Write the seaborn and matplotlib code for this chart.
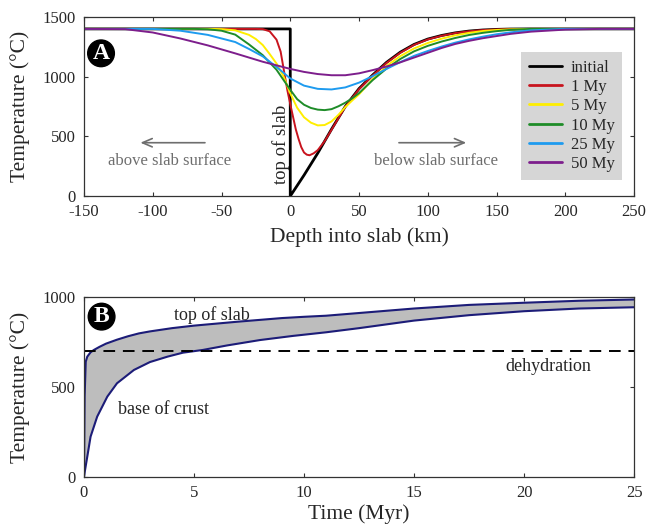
import matplotlib
matplotlib.use('Agg')
import matplotlib.pyplot as plt
import pandas as pd
import seaborn as sns

# ---------------------------
# Panel A data: temperature profiles vs depth into slab
# ---------------------------
initial_x = [-150, 0, 0, 10, 20, 30, 40, 50, 60, 70, 80, 90, 100, 110, 120, 130, 140, 150, 160, 175, 200, 250]
initial_T = [1400, 1400, 0, 175, 360, 560, 750, 900, 1015, 1120, 1205, 1270, 1315, 1345, 1367, 1382, 1391, 1396, 1399, 1400, 1400, 1400]

my1_x = [-150, -25, -20, -15, -10, -7, -4, -2, 0, 2, 4, 6, 8, 10, 12, 14, 17, 20, 25, 30, 40, 50, 60, 70, 80, 90, 100, 110, 120, 130, 140, 150, 160, 175, 200, 250]
my1_T = [1400, 1400, 1398, 1380, 1310, 1210, 1010, 880, 770, 665, 560, 480, 410, 365, 347, 342, 358, 385, 460, 555, 748, 895, 1010, 1115, 1200, 1266, 1312, 1342, 1365, 1380, 1390, 1395, 1398, 1400, 1400, 1400]

my5_x = [-150, -60, -50, -40, -30, -25, -20, -15, -10, -5, 0, 5, 10, 15, 20, 25, 30, 35, 40, 45, 50, 60, 70, 80, 90, 100, 110, 120, 130, 140, 150, 160, 175, 200, 250]
my5_T = [1400, 1400, 1398, 1388, 1350, 1315, 1265, 1190, 1110, 1005, 860, 740, 660, 615, 592, 595, 625, 680, 745, 800, 852, 980, 1090, 1172, 1236, 1282, 1318, 1346, 1367, 1382, 1391, 1396, 1400, 1400, 1400]

my10_x = [-150, -70, -60, -50, -40, -30, -20, -10, 0, 5, 10, 15, 20, 25, 30, 35, 40, 45, 50, 60, 70, 80, 90, 100, 110, 120, 130, 140, 150, 160, 175, 250]
my10_T = [1400, 1400, 1397, 1385, 1352, 1270, 1180, 1058, 890, 812, 765, 738, 724, 720, 728, 752, 782, 818, 862, 972, 1068, 1148, 1212, 1258, 1294, 1324, 1349, 1367, 1381, 1392, 1400, 1400]

my25_x = [-150, -100, -80, -60, -40, -30, -20, -10, 0, 10, 20, 30, 40, 50, 60, 70, 80, 90, 100, 110, 120, 130, 140, 150, 160, 175, 200, 250]
my25_T = [1400, 1400, 1385, 1350, 1290, 1232, 1170, 1082, 985, 925, 898, 893, 910, 950, 1005, 1065, 1122, 1174, 1215, 1252, 1285, 1312, 1335, 1355, 1371, 1388, 1400, 1400]

my50_x = [-150, -120, -100, -80, -60, -40, -20, -10, 0, 10, 20, 30, 40, 50, 60, 70, 80, 90, 100, 110, 120, 130, 140, 150, 160, 175, 200, 225, 250]
my50_T = [1400, 1398, 1370, 1320, 1262, 1195, 1125, 1095, 1065, 1040, 1022, 1012, 1012, 1028, 1055, 1085, 1120, 1160, 1200, 1240, 1274, 1300, 1322, 1340, 1358, 1377, 1394, 1400, 1400]

labels_A = ["initial", "1 My", "5 My", "10 My", "25 My", "50 My"]
colors_A = ["#000000", "#c8141e", "#ffee00", "#1e8c28", "#1e9bef", "#7d1e8c"]

# ---------------------------
# Panel B data: temperature vs time
# ---------------------------
top_t = [0, 0.03, 0.08, 0.15, 0.3, 0.45, 0.7, 1.0, 1.5, 2.0, 2.5, 3.0, 4.0, 5.0, 6.0, 7.0, 8.0, 9.0, 10.0, 11.0, 12.5, 15.0, 17.5, 20.0, 22.5, 25.0]
top_T = [0, 450, 640, 668, 692, 705, 722, 740, 762, 781, 797, 808, 826, 840, 851, 862, 872, 882, 889, 895, 910, 935, 955, 967, 978, 985]

base_t = [0, 0.05, 0.15, 0.3, 0.6, 1.06, 1.5, 2.27, 3.0, 3.8, 4.5, 5.4, 6.5, 8.0, 9.5, 11.0, 12.5, 15.0, 17.5, 20.0, 22.5, 25.0]
base_T = [0, 40, 113, 224, 335, 446, 520, 594, 638, 668, 690, 705, 730, 760, 783, 803, 826, 868, 898, 920, 935, 942]

dehydration_T = 700

# ---------------------------
# Dataframes
# ---------------------------
xs_A = [initial_x, my1_x, my5_x, my10_x, my25_x, my50_x]
Ts_A = [initial_T, my1_T, my5_T, my10_T, my25_T, my50_T]
rows = []
for lab, xs, Ts in zip(labels_A, xs_A, Ts_A):
    for x, T in zip(xs, Ts):
        rows.append({"Depth": x, "Temperature": T, "Time": lab})
df_A = pd.DataFrame(rows)

df_top = pd.DataFrame({"Time": top_t, "Temperature": top_T})
df_base = pd.DataFrame({"Time": base_t, "Temperature": base_T})

# ---------------------------
# Plot
# ---------------------------
sns.set_style("ticks")
plt.rcParams['font.family'] = ['Liberation Serif', 'DejaVu Serif']
plt.rcParams['axes.unicode_minus'] = False
plt.rcParams['xtick.direction'] = 'in'
plt.rcParams['ytick.direction'] = 'in'
plt.rcParams['axes.edgecolor'] = '#333333'
plt.rcParams['axes.linewidth'] = 0.9

fig = plt.figure(figsize=(6.51, 5.30), dpi=100)
axA = fig.add_axes([0.129, 0.630, 0.845, 0.338])
axB = fig.add_axes([0.129, 0.100, 0.845, 0.340])

sns.lineplot(data=df_A, x="Depth", y="Temperature", hue="Time",
             palette=dict(zip(labels_A, colors_A)), hue_order=labels_A,
             estimator=None, sort=False, linewidth=1.4, ax=axA)
axA.lines[0].set_linewidth(2.0)
axA.lines[0].set_zorder(1)

axA.set_xlim(-150, 250)
axA.set_ylim(0, 1500)
axA.set_xticks(range(-150, 251, 50))
axA.set_yticks([0, 500, 1000, 1500])
axA.set_xlabel("Depth into slab (km)", fontsize=15.5, labelpad=5)
axA.set_ylabel("Temperature (°C)", fontsize=15.5, labelpad=9)
axA.tick_params(labelsize=12, top=True, right=True, length=3, color='#333333')
axA.tick_params(axis='x', pad=6)
axA.tick_params(axis='y', pad=6)

handles, _ = axA.get_legend_handles_labels()
for h in handles:
    h.set_linewidth(2.0)
leg = axA.legend(handles, labels_A, loc="upper right", bbox_to_anchor=(0.978, 0.804),
                 borderaxespad=0, fontsize=12, frameon=True, facecolor="#d6d6d6",
                 edgecolor="none", fancybox=False, framealpha=1, handlelength=2.0,
                 labelspacing=0.2, borderpad=0.45, handletextpad=0.5)

axA.text(-7, 430, "top of slab", rotation=90, ha="center", va="center", fontsize=13.5)
axA.annotate("", xy=(-111, 447), xytext=(-60, 447),
             arrowprops=dict(arrowstyle="->,head_length=0.7,head_width=0.3", color="#6e6e6e", lw=1.2))
axA.text(-88, 293, "above slab surface", ha="center", va="center", fontsize=12, color="#6e6e6e")
axA.annotate("", xy=(130, 447), xytext=(77, 447),
             arrowprops=dict(arrowstyle="->,head_length=0.7,head_width=0.3", color="#6e6e6e", lw=1.2))
axA.text(106, 293, "below slab surface", ha="center", va="center", fontsize=12, color="#6e6e6e")
axA.text(0.031, 0.797, "A", transform=axA.transAxes, ha="center", va="center",
         fontsize=17, fontweight="bold", color="white",
         bbox=dict(boxstyle="circle,pad=0.12", fc="black", ec="black"))

# Panel B
axB.fill(top_t + base_t[::-1], top_T + base_T[::-1], color="#bdbdbd", linewidth=0)
sns.lineplot(data=df_top, x="Time", y="Temperature", color="#1c1c78", linewidth=1.5,
             estimator=None, sort=False, ax=axB)
sns.lineplot(data=df_base, x="Time", y="Temperature", color="#1c1c78", linewidth=1.5,
             estimator=None, sort=False, ax=axB)
axB.axhline(dehydration_T, color="black", linestyle=(0, (6, 4)), linewidth=1.4)

axB.set_xlim(0, 25)
axB.set_ylim(0, 1000)
axB.set_xticks(range(0, 26, 5))
axB.set_yticks([0, 500, 1000])
axB.set_xlabel("Time (Myr)", fontsize=15.5, labelpad=2)
axB.set_ylabel("Temperature (°C)", fontsize=15.5, labelpad=9)
axB.tick_params(labelsize=12, top=True, right=True, length=3, color='#333333')
axB.tick_params(axis='x', pad=6)
axB.tick_params(axis='y', pad=6)

axB.text(5.8, 900, "top of slab", ha="center", va="center", fontsize=13)
axB.text(3.6, 376, "base of crust", ha="center", va="center", fontsize=13)
axB.text(21.1, 613, "dehydration", ha="center", va="center", fontsize=13)
axB.text(0.032, 0.89, "B", transform=axB.transAxes, ha="center", va="center",
         fontsize=17, fontweight="bold", color="white",
         bbox=dict(boxstyle="circle,pad=0.12", fc="black", ec="black"))

fig.savefig("out.png", dpi=100)
plt.close(fig)
